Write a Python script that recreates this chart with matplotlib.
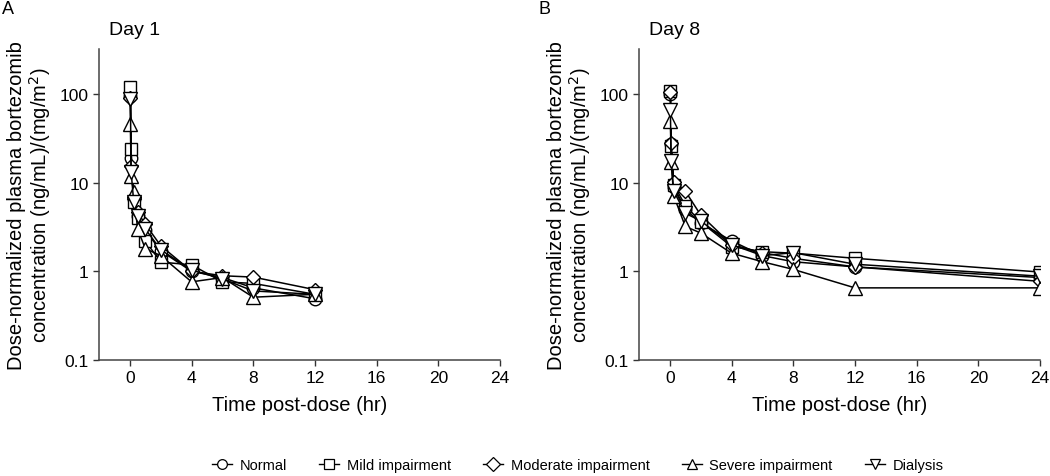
import numpy as np
import matplotlib
matplotlib.use("Agg")
import matplotlib.pyplot as plt
from matplotlib.lines import Line2D

plt.rcParams['font.family'] = ['Liberation Sans', 'DejaVu Sans']

groups = ["Normal", "Mild impairment", "Moderate impairment", "Severe impairment", "Dialysis"]
markers = ["o", "s", "D", "^", "v"]

# Day 1 sampling times (hr) and dose-normalized concentrations
t_day1 = [0.033, 0.083, 0.25, 0.5, 1, 2, 4, 6, 8, 12]
day1_normal = [95, 19, 6.5, 4.2, 2.9, 1.7, 1.0, 0.85, 0.65, 0.49]
day1_mild = [120, 23.6, 6.0, 4.0, 2.2, 1.27, 1.18, 0.76, 0.73, 0.55]
day1_moderate = [90, 15.4, 6.8, 4.6, 3.4, 1.94, 1.0, 0.89, 0.86, 0.62]
day1_severe = [46, 12, 7.85, 3.0, 1.8, 1.5, 0.76, 0.85, 0.51, 0.55]
day1_dialysis = [88, 13.2, 6.0, 4.2, 3.0, 1.75, 1.03, 0.82, 0.6, 0.55]

# Day 8
t_day8 = [0.033, 0.083, 0.25, 1, 2, 4, 6, 8, 12, 24]
day8_normal = [100, 27, 9, 5.0, 3.5, 2.2, 1.5, 1.28, 1.12, 0.85]
day8_mild = [108, 26, 9.5, 5.5, 3.6, 1.9, 1.66, 1.6, 1.4, 0.98]
day8_moderate = [105, 28, 10.2, 8.0, 4.3, 2.0, 1.62, 1.4, 1.12, 0.77]
day8_severe = [49, 17, 7.1, 3.2, 2.7, 1.6, 1.28, 1.05, 0.65, 0.65]
day8_dialysis = [66, 17.6, 8.0, 4.5, 3.7, 2.0, 1.5, 1.62, 1.2, 0.88]

day1 = [day1_normal, day1_mild, day1_moderate, day1_severe, day1_dialysis]
day8 = [day8_normal, day8_mild, day8_moderate, day8_severe, day8_dialysis]

x_ticks = [0, 4, 8, 12, 16, 20, 24]
y_ticks = [0.1, 1, 10, 100]
y_ticklabels = ["0.1", "1", "10", "100"]
ylabel = "Dose-normalized plasma bortezomib\nconcentration (ng/mL)/(mg/m$^2$)"

fig = plt.figure(figsize=(10.5, 4.77), dpi=100)
ax1 = fig.add_axes([0.0943, 0.2432, 0.3819, 0.652])
ax2 = fig.add_axes([0.6086, 0.2432, 0.3819, 0.652])

for ax, t, data, day in [(ax1, t_day1, day1, "Day 1"), (ax2, t_day8, day8, "Day 8")]:
    for vals, m in zip(data, markers):
        ms = {"o": 9, "s": 8, "D": 7.5, "^": 9.5, "v": 9.5}[m]
        ax.plot(t, vals, color="black", lw=1.1, marker=m, ms=ms,
                mfc="white", mec="black", mew=1.0)
    ax.set_yscale("log")
    ax.set_ylim(0.1, 320)
    ax.set_xlim(-2, 24)
    ax.set_xticks(x_ticks)
    ax.set_yticks(y_ticks)
    ax.set_yticklabels(y_ticklabels)
    ax.minorticks_off()
    ax.tick_params(labelsize=12.5, length=4, width=1, direction="out", colors="#333333", labelcolor="black")
    for s in ("top", "right"):
        ax.spines[s].set_visible(False)
    for s in ("left", "bottom"):
        ax.spines[s].set_color("#444444")
        ax.spines[s].set_linewidth(1.1)
    ax.set_xlabel("Time post-dose (hr)", fontsize=14.5, labelpad=7)
    ax.set_ylabel(ylabel, fontsize=14.5, labelpad=5, linespacing=1.05)
    ax.text(0.025, 1.064, day, transform=ax.transAxes, fontsize=14, va="center", ha="left")

fig.text(0.002, 0.981, "A", fontsize=13, va="center", ha="left")
fig.text(0.513, 0.981, "B", fontsize=13, va="center", ha="left")

handles = [Line2D([0], [0], color="black", lw=1, marker=m, ms=7, mfc="white", mec="black", mew=0.9)
           for m in markers]
fig.legend(handles, groups, loc="lower center", bbox_to_anchor=(0.55, -0.02), ncol=5,
           frameon=False, fontsize=10.5, handlelength=1.4, handletextpad=0.5, columnspacing=2.2)

fig.savefig("out.png", dpi=100)
